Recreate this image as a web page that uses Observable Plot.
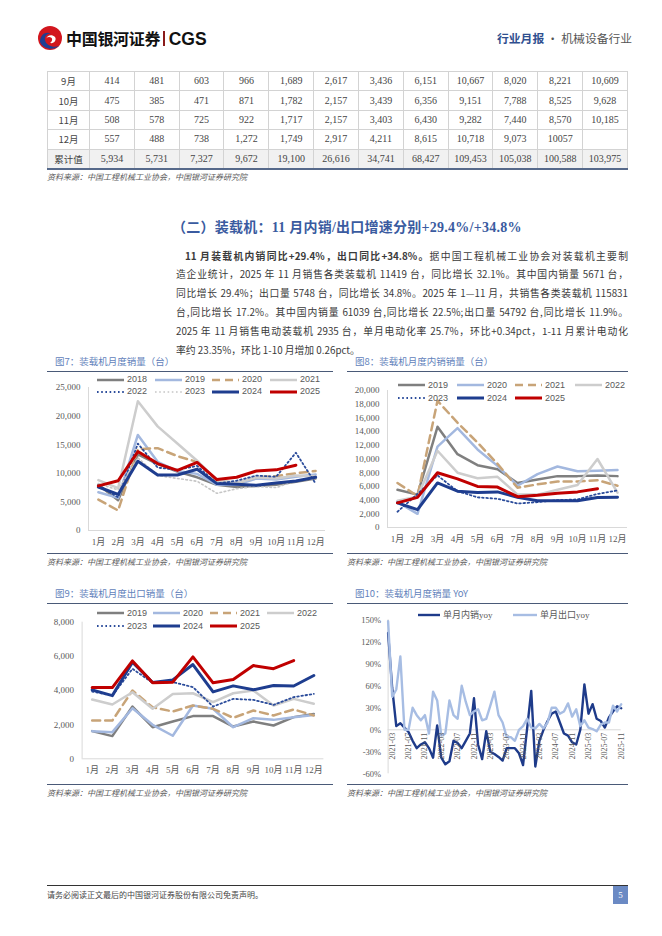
<!DOCTYPE html>
<html><head><meta charset="utf-8">
<script src="https://cdn.jsdelivr.net/npm/d3@7"></script>
<script src="https://cdn.jsdelivr.net/npm/@observablehq/plot@0.6"></script>
<style>
body{margin:0;background:#fff;}
#page{position:relative;width:662px;height:936px;overflow:hidden;font-family:"Noto Sans CJK SC",sans-serif;color:#333;}
.a{position:absolute;white-space:nowrap;}
.src{font-size:8px;font-style:italic;color:#5a5a5a;}
.ftitle{font-size:9.5px;color:#6282bb;}
.rule{height:0;border-top:1px solid #4a5a78;}
.leg{font-family:"Liberation Sans",sans-serif;font-size:9px;color:#595959;line-height:12px;}
table.t{position:absolute;left:47px;top:71px;width:581px;border-collapse:collapse;table-layout:fixed;}
table.t td{border:1px solid #d3d3d3;height:18.4px;padding:0;text-align:center;font-family:"Liberation Serif","Noto Sans CJK SC",serif;font-size:10px;color:#454545;line-height:18px;}
table.t tr.cum td{background:#f1f1f1;border-bottom:2.5px solid #56698a;}
.para div{height:18.8px;line-height:18.8px;text-align:justify;text-align-last:justify;}
</style></head><body><div id="page"></div>
<script>
// ---------- data ----------
const months = ["1月","2月","3月","4月","5月","6月","7月","8月","9月","10月","11月","12月"];

// Fig 7: loader monthly sales (units)
const total2018 = [8000, 5300, 13300, 11600, 10300, 9300, 8000, 7600, 7800, 8000, 8500, 9100];
const total2019 = [6700, 5700, 16700, 12000, 10400, 9900, 8000, 8000, 9100, 8900, 9400, 9800];
const total2020 = [5400, 3500, 14200, 14400, 13000, 12000, 8700, 8300, 9300, 9500, 10000, 10400];
const total2021 = [8800, 7400, 22600, 18200, 15200, 12200, 8800, 8300, 9300, 9100, 9600, 9500];
const total2022 = [7900, 5800, 15200, 11000, 10600, 11300, 8200, 8700, 9600, 9400, 13600, 8200];
const total2023 = [8200, 7100, 12700, 9600, 9100, 8600, 6500, 7300, 7700, 7500, 8700, 9100];
const total2024 = [7600, 6300, 12100, 9700, 9700, 10700, 8200, 8100, 7900, 8300, 8650, 9300];
const total2025 = [7800, 8700, 13800, 11700, 10500, 11900, 8900, 9300, 10400, 10600, 11419];

// Fig 8: domestic sales
const dom2019 = [5500, 4800, 14700, 10700, 9100, 8500, 6500, 7000, 7500, 7500, 7600, 7500];
const dom2020 = [3700, 2000, 11800, 14500, 11400, 9000, 6100, 7800, 8900, 8200, 8300, 8400];
const dom2021 = [6500, 4600, 18500, 15300, 12400, 9300, 5800, 6300, 6700, 6700, 6900, 6100];
const dom2022 = [3900, 4500, 11200, 8000, 7200, 7400, 4800, 4800, 5500, 6200, 10000, 5100];
const dom2023 = [2300, 4900, 7600, 5300, 4400, 4200, 3500, 3700, 4000, 4100, 4900, 5400];
const dom2024 = [3600, 2600, 6500, 5300, 5100, 5200, 4400, 3900, 3900, 3900, 4383, 4400];
const dom2025 = [3600, 4400, 8000, 7100, 6000, 5900, 4500, 4700, 5000, 5200, 5671];

// Fig 9: export sales
const exp2019 = [1620, 1330, 3060, 1850, 2180, 2500, 2500, 1890, 2180, 1950, 2440, 2630];
const exp2020 = [1620, 1560, 2960, 1990, 1350, 3120, 2930, 1850, 2380, 2280, 2440, 2570];
const exp2021 = [2240, 2240, 4000, 3020, 2770, 3120, 2930, 2400, 2830, 2540, 2890, 2540];
const exp2022 = [3470, 3180, 3900, 2930, 3800, 3840, 3320, 3840, 4000, 3120, 3510, 3220];
const exp2023 = [3940, 3700, 5270, 4450, 4490, 4200, 3060, 3510, 3450, 3160, 3610, 3800];
const exp2024 = [4040, 3700, 5660, 4470, 4620, 5520, 3920, 4270, 4040, 4290, 4264, 4880];
const exp2025 = [4170, 4170, 5730, 4450, 4490, 5970, 4450, 4640, 5460, 5280, 5748];

// Fig 10: monthly YoY (%), 2021-02 .. 2025-11
const yoyDomestic = [132, 57, 5, 9, 3, -3, -15, -25, -20, -17, -25, -38, 6, -38, -47, -43, -15, -18, -25, -15,
  -5, 43, -20, -40, -2, -30, -33, -37, -42, -25, -25, -25, -32, -48, 2, 53, -50, -15, 0, 12,
  22, 25, 10, -5, -8, -17, -20, 0, 62, 22, 35, 15, 12, 3, 17, 25, 32, 29.4];
const yoyExport = [148, 45, 55, 100, 0, 0, 30, 20, 13, 20, -5, 52, 40, -8, -5, 40, 20, 15, 60, 38,
  20, 25, 28, 13, 15, 33, 52, 20, 10, -10, -10, -15, 0, 5, 15, 3, 2, 8, 2, 10,
  30, 30, 22, 25, 36, 18, 28, 5, 13, 3, 1, -2, 7, 10, 10, 33, 25, 34.8];
const yoyTickLabels = ["2021-03","2021-07","2021-11","2022-03","2022-07","2022-11","2023-03","2023-07",
  "2023-11","2024-03","2024-07","2024-11","2025-03","2025-07","2025-11"];

// table (continued from previous page)
const tableLabels = ["9月","10月","11月","12月","累计值"];
const tableSep = ["414","481","603","966","1,689","2,617","3,436","6,151","10,667","8,020","8,221","10,609"];
const tableOct = ["475","385","471","871","1,782","2,157","3,439","6,356","9,151","7,788","8,525","9,628"];
const tableNov = ["508","578","725","922","1,717","2,157","3,403","6,430","9,282","7,440","8,570","10,185"];
const tableDec = ["557","488","738","1,272","1,749","2,917","4,211","8,615","10,718","9,073","10057",""];
const tableCum = ["5,934","5,731","7,327","9,672","19,100","26,616","34,741","68,427","109,453","105,038","100,588","103,975"];

// ---------- styles ----------
const S = {
  gray:   {stroke:"#7f7f7f", strokeWidth:2.5},
  lblue:  {stroke:"#a3b8df", strokeWidth:2.5},
  tan:    {stroke:"#c8a478", strokeWidth:2.5, strokeDasharray:"8,5"},
  lgray:  {stroke:"#cdcdcd", strokeWidth:2.5},
  navyDot:{stroke:"#2b4c9b", strokeWidth:1.8, strokeDasharray:"1.6,2.6"},
  lDot:   {stroke:"#c6c6c6", strokeWidth:1.6, strokeDasharray:"1.6,2.6"},
  navy:   {stroke:"#1e3d8f", strokeWidth:3},
  red:    {stroke:"#c00000", strokeWidth:3}
};

const page = document.getElementById("page");
function el(html, css, cls) {
  const d = document.createElement("div");
  d.className = "a" + (cls ? " " + cls : "");
  d.style.cssText = css;
  d.innerHTML = html;
  page.appendChild(d);
  return d;
}

// ---------- header ----------
el(`<svg width="26" height="26" viewBox="0 0 26 26">
  <circle cx="13" cy="13" r="12" fill="#d2161e"/>
  <path d="M3 17 C 6 24, 16 26, 22 21 C 17 23, 9 21, 8 15 C 7 11, 11 8, 14 9 C 10 6, 3 9, 3 17 Z" fill="#1f3f93"/>
  <path d="M9 14 C 10 10, 15 9, 18 12 C 20 15, 17 19, 13 18 C 16 16, 16 12, 12 12 C 10 12, 9 13, 9 14 Z" fill="#fff"/>
</svg>`, "left:37px;top:25px;");
el(`<span style="font-weight:700;font-size:16px;color:#111;letter-spacing:-0.3px">中国银河证券</span><span style="display:inline-block;width:1.5px;height:15px;background:#8a1b1b;margin:0 4px 0 3px;vertical-align:-1px"></span><span style="font-family:'Liberation Sans';font-weight:700;font-size:17.5px;color:#111">CGS</span>`,
  "left:66px;top:26px;line-height:24px;");
el(`<span style="color:#2f4f8f;font-weight:700">行业月报</span><span style="color:#555"> · 机械设备行业</span>`,
  "left:497px;top:30px;font-size:11.8px;line-height:16px;");

// ---------- table ----------
(function(){
  const rows = [tableSep, tableOct, tableNov, tableDec, tableCum];
  let h = `<table class="t"><colgroup><col style="width:42px">` + "<col>".repeat(12) + `</colgroup>`;
  rows.forEach((r, k) => {
    h += `<tr${k === 4 ? ' class="cum"' : ''}><td style="font-family:'Noto Sans CJK SC';font-size:9.5px">${tableLabels[k]}</td>` +
      r.map(v => `<td>${v}</td>`).join("") + `</tr>`;
  });
  h += `</table>`;
  const wrap = document.createElement("div");
  wrap.innerHTML = h;
  page.appendChild(wrap.firstChild);
})();
el("资料来源：中国工程机械工业协会，中国银河证券研究院", "left:47px;top:171px;line-height:12px;", "src");

// ---------- heading & paragraph ----------
el("（二）装载机：11 月内销/出口增速分别+29.4%/+34.8%",
  "left:172px;top:217.5px;font-size:14px;letter-spacing:0.25px;line-height:20px;font-weight:700;color:#3a5ba0;font-family:'Liberation Serif','Noto Sans CJK SC',serif;");
const para = el(`
<div style="padding-left:9px"><b>11 月装载机内销同比+29.4%，出口同比+34.8%。</b>据中国工程机械工业协会对装载机主要制</div>
<div>造企业统计，2025 年 11 月销售各类装载机 11419 台，同比增长 32.1%。其中国内销量 5671 台，</div>
<div>同比增长 29.4%；出口量 5748 台，同比增长 34.8%。2025 年 1—11 月，共销售各类装载机 115831</div>
<div>台,同比增长 17.2%。其中国内销量 61039 台,同比增长 22.5%;出口量 54792 台,同比增长 11.9%。</div>
<div>2025 年 11 月销售电动装载机 2935 台，单月电动化率 25.7%，环比+0.34pct，1-11 月累计电动化</div>
<div style="text-align-last:left">率约 23.35%，环比 1-10 月增加 0.26pct。</div>`,
  "left:176px;top:246.6px;width:452px;font-size:9.8px;color:#3a3a3a;", "para");

// ---------- chart helpers ----------
function lineMarks(series) {
  return series.map(([name, arr, st]) =>
    Plot.lineY(arr, {x: (d, i) => i + 1, y: d => d, ...st, strokeLinejoin: "round"}));
}
function yearChart(series, yMax, yStep, o) {
  const svg = Plot.plot({
    width: o.w, height: o.h,
    marginLeft: o.ml, marginRight: o.mr, marginTop: o.mt, marginBottom: o.mb,
    style: {fontFamily: "'Liberation Serif','Noto Sans CJK SC',serif", fontSize: "9px", color: "#595959", background: "transparent", overflow: "visible"},
    x: {domain: [0.5, 12.5], ticks: d3.range(1, 13), tickFormat: d => months[d - 1], tickSize: 0, tickPadding: 8, label: null},
    y: {domain: [0, yMax], ticks: d3.range(0, yMax + 1, yStep), tickFormat: d3.format(","), tickSize: 0, tickPadding: 8, label: null},
    marks: [
      Plot.ruleX([0.5], {stroke: "#d9d9d9", strokeWidth: 1}),
      Plot.ruleY([0], {stroke: "#d9d9d9", strokeWidth: 1}),
      ...lineMarks(series)
    ]
  });
  const d = el("", `left:${o.left}px;top:${o.top}px;`);
  d.appendChild(svg);
}
function legendItem(x, y, st, label, len) {
  len = len || 27;
  const dash = st.strokeDasharray ? `stroke-dasharray="${st.strokeDasharray}"` : "";
  el(`<svg width="${len}" height="8" style="display:block;overflow:visible"><line x1="0" y1="4" x2="${len}" y2="4" stroke="${st.stroke}" stroke-width="${st.strokeWidth}" ${dash}/></svg>`,
    `left:${x}px;top:${y - 4}px;`);
  el(label, `left:${x + len + 3}px;top:${y - 6.5}px;`, "leg");
}
function frameText(title, src, left, right, topY, botY) {
  el(title, `left:${left + 8}px;top:${topY - 16}px;line-height:13px;`, "ftitle");
  el("", `left:${left}px;top:${topY}px;width:${right - left}px;`, "rule");
  el("", `left:${left}px;top:${botY}px;width:${right - left}px;`, "rule");
  el(src, `left:${left}px;top:${botY + 3}px;line-height:12px;`, "src");
}

// ---------- Fig 7 ----------
frameText("图7：装载机月度销量（台）", "资料来源：中国工程机械工业协会，中国银河证券研究院", 47, 333, 370.5, 553);
const fig7 = [["2018", total2018, S.gray], ["2019", total2019, S.lblue], ["2020", total2020, S.tan], ["2021", total2021, S.lgray],
  ["2022", total2022, S.navyDot], ["2023", total2023, S.lDot], ["2024", total2024, S.navy], ["2025", total2025, S.red]];
yearChart(fig7, 25000, 5000, {left: 47, top: 372, w: 286, h: 180, ml: 41, mr: 8, mt: 15, mb: 22});
[97, 155, 212, 270].forEach((x, k) => {
  legendItem(x, 379.5, fig7[k][2], fig7[k][0]);
  legendItem(x, 391.7, fig7[k + 4][2], fig7[k + 4][0]);
});

// ---------- Fig 8 ----------
frameText("图8：装载机月度内销销量（台）", "资料来源：中国工程机械工业协会，中国银河证券研究院", 347, 628, 370.5, 553);
const fig8 = [["2019", dom2019, S.gray], ["2020", dom2020, S.lblue], ["2021", dom2021, S.tan], ["2022", dom2022, S.lgray],
  ["2023", dom2023, S.navyDot], ["2024", dom2024, S.navy], ["2025", dom2025, S.red]];
yearChart(fig8, 20000, 2000, {left: 347, top: 372, w: 281, h: 180, ml: 40, mr: 1, mt: 18, mb: 25});
[398, 457, 515, 575].forEach((x, k) => {
  legendItem(x, 385, fig8[k][2], fig8[k][0]);
  if (fig8[k + 4]) legendItem(x, 398.3, fig8[k + 4][2], fig8[k + 4][0]);
});

// ---------- Fig 9 ----------
frameText("图9：装载机月度出口销量（台）", "资料来源：中国工程机械工业协会，中国银河证券研究院", 47, 333, 602.5, 783.5);
const fig9 = [["2019", exp2019, S.gray], ["2020", exp2020, S.lblue], ["2021", exp2021, S.tan], ["2022", exp2022, S.lgray],
  ["2023", exp2023, S.navyDot], ["2024", exp2024, S.navy], ["2025", exp2025, S.red]];
yearChart(fig9, 8000, 2000, {left: 47, top: 604, w: 286, h: 180, ml: 34.6, mr: 9.6, mt: 17.7, mb: 25.7});
[97, 153, 210, 267].forEach((x, k) => {
  legendItem(x, 613.3, fig9[k][2], fig9[k][0]);
  if (fig9[k + 4]) legendItem(x, 626, fig9[k + 4][2], fig9[k + 4][0]);
});

// ---------- Fig 10 ----------
frameText("图10：装载机月度销量 YoY", "资料来源：中国工程机械工业协会，中国银河证券研究院", 347, 628, 602.5, 783.5);
(function(){
  const svg = Plot.plot({
    width: 281, height: 180,
    marginLeft: 40.6, marginRight: 7.3, marginTop: 15.3, marginBottom: 10.7,
    style: {fontFamily: "'Liberation Serif',serif", fontSize: "8.5px", color: "#595959", background: "transparent", overflow: "visible"},
    x: {domain: [-1, 56], axis: null},
    y: {domain: [-60, 150], ticks: d3.range(-60, 151, 30), tickFormat: d => d + "%", tickSize: 0, tickPadding: 7, label: null},
    marks: [
      Plot.ruleX([-1], {y1: -60, y2: 150, stroke: "#d9d9d9"}),
      Plot.ruleY([0], {stroke: "#d9d9d9"}),
      Plot.lineY(yoyDomestic, {x: (d, i) => i - 1, y: d => d, stroke: "#1e3b8a", strokeWidth: 2.4}),
      Plot.lineY(yoyExport, {x: (d, i) => i - 1, y: d => d, stroke: "#a7bde3", strokeWidth: 2.4}),
      Plot.text(yoyTickLabels, {x: (d, i) => i * 4, y: 0, text: d => d, rotate: -90, textAnchor: "end", dy: 3, fontSize: 8, fill: "#595959"})
    ]
  });
  const d = el("", "left:347px;top:604px;");
  d.appendChild(svg);
})();
legendItem(418, 615, {stroke: "#1e3b8a", strokeWidth: 2.4}, "<span style=\"font-family:'Liberation Serif','Noto Sans CJK SC'\">单月内销yoy</span>", 22);
legendItem(513, 615, {stroke: "#a7bde3", strokeWidth: 2.4}, "<span style=\"font-family:'Liberation Serif','Noto Sans CJK SC'\">单月出口yoy</span>", 24);

// ---------- footer ----------
el("", "left:47px;top:885px;width:581px;border-top:1px solid #333;height:0;");
el("请务必阅读正文最后的中国银河证券股份有限公司免责声明。", "left:47px;top:889px;font-size:8px;color:#444;line-height:12px;");
el("5", "left:613px;top:885.5px;width:15px;height:18px;background:#6b8ac4;color:#fff;font-size:9px;line-height:18px;text-align:center;font-family:'Liberation Serif';");
</script></body></html>
